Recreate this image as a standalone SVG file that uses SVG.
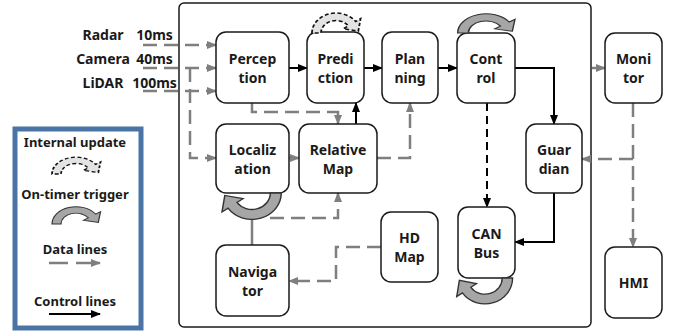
<svg xmlns="http://www.w3.org/2000/svg" width="678" height="333" viewBox="0 0 678 333">
  <style>
    .box { fill: #ffffff; stroke: #1a1a1a; stroke-width: 1.5; }
    .lbl { font-family: "Noto Sans", "Open Sans", sans-serif; font-weight: bold; font-size: 14px; fill: #1a1a1a; text-anchor: middle; }
    .leg { font-family: "Noto Sans", "Open Sans", sans-serif; font-weight: bold; font-size: 13px; fill: #1a1a1a; text-anchor: middle; }
    .data { fill: none; stroke: #7f7f7f; stroke-width: 2.5; stroke-dasharray: 14 7; }
    .datas { fill: none; stroke: #7f7f7f; stroke-width: 2.5; }
    .ctl { fill: none; stroke: #000000; stroke-width: 2; }
    .ctld { fill: none; stroke: #000000; stroke-width: 2; stroke-dasharray: 8 5; }
    .timer { fill: #a6a6a6; stroke: #333333; stroke-width: 1.2; }
    .internal { fill: #e3e3e3; stroke: #111111; stroke-width: 1.8; stroke-dasharray: 4 2.5; }
  </style>
  <defs>
    <marker id="ag" markerWidth="10" markerHeight="8" refX="9" refY="4" orient="auto" markerUnits="userSpaceOnUse">
      <path d="M0,0 L10,4 L0,8 z" fill="#7f7f7f"/>
    </marker>
    <marker id="ab" markerWidth="10" markerHeight="8" refX="9" refY="4" orient="auto" markerUnits="userSpaceOnUse">
      <path d="M0,0 L10,4 L0,8 z" fill="#000000"/>
    </marker>
    <!-- curved band with arrowhead, base on y=0, arching over the top -->
    <path id="loop" d="M-24,0 A24,24 0 0 1 19.66,-13.77 L24.57,-17.2 L22.3,-2.2 L7.37,-5.16 L12.29,-8.6 A15,15 0 0 0 -15,0 Z"/>
  </defs>

  <!-- system frame -->
  <rect x="179" y="3" width="412" height="324" rx="5" fill="#ffffff" stroke="#1a1a1a" stroke-width="1.5"/>

  <!-- sensor inputs -->
  <g id="sensors">
    <text class="lbl" x="103" y="40">Radar</text>
    <text class="lbl" x="154.5" y="40">10ms</text>
    <text class="lbl" x="103" y="64">Camera</text>
    <text class="lbl" x="154.5" y="64">40ms</text>
    <text class="lbl" x="103" y="88">LiDAR</text>
    <text class="lbl" x="154.5" y="88">100ms</text>
  </g>

  <!-- connectors -->
  <g id="connectors">
    <path class="data" d="M143,45 H216" marker-end="url(#ag)"/>
    <path class="data" d="M143,68 H216" marker-end="url(#ag)"/>
    <path class="data" d="M143,91 H216" marker-end="url(#ag)"/>
    <path class="data" d="M190,68 V158 H216" marker-end="url(#ag)"/>
    <path class="data" d="M252,103 V112 H338 V124" marker-end="url(#ag)"/>
    <path class="data" d="M289,158 H299" marker-end="url(#ag)"/>
    <path class="data" d="M377,158 H410 V103" marker-end="url(#ag)"/>
    <path class="datas" d="M252,245 V220"/>
    <path class="data" d="M270,218 H338 V193" marker-end="url(#ag)"/>
    <path class="data" d="M381,247 H336 V281 H289" marker-end="url(#ag)"/>
    <path class="datas" d="M592,68 H605" marker-end="url(#ag)"/>
    <path class="data" d="M633,103 V247" marker-end="url(#ag)"/>
    <path class="data" d="M633,159 H582" marker-end="url(#ag)"/>

    <path class="ctl" d="M289,68 H307" marker-end="url(#ab)"/>
    <path class="ctl" d="M364,68 H382" marker-end="url(#ab)"/>
    <path class="ctl" d="M438,68 H457" marker-end="url(#ab)"/>
    <path class="ctl" d="M356,124 V103" marker-end="url(#ab)"/>
    <path class="ctl" d="M515,68 H554 V124" marker-end="url(#ab)"/>
    <path class="ctld" d="M487,103 V207" marker-end="url(#ab)"/>
    <path class="ctl" d="M554,193 V242 H515" marker-end="url(#ab)"/>
  </g>

  <!-- modules -->
  <g id="perception">
    <rect class="box" x="216" y="32" width="73" height="71" rx="10"/>
    <text class="lbl" x="252.5" y="64">Percep</text>
    <text class="lbl" x="252.5" y="83">tion</text>
  </g>
  <g id="prediction">
    <rect class="box" x="307" y="32" width="57" height="71" rx="10"/>
    <text class="lbl" x="335.5" y="64">Predi</text>
    <text class="lbl" x="335.5" y="83">ction</text>
  </g>
  <g id="planning">
    <rect class="box" x="382" y="32" width="56" height="71" rx="10"/>
    <text class="lbl" x="410" y="64">Plan</text>
    <text class="lbl" x="410" y="83">ning</text>
  </g>
  <g id="control">
    <rect class="box" x="457" y="33" width="58" height="70" rx="10"/>
    <text class="lbl" x="486" y="64">Cont</text>
    <text class="lbl" x="486" y="83">rol</text>
  </g>
  <g id="monitor">
    <rect class="box" x="605" y="33" width="57" height="70" rx="10"/>
    <text class="lbl" x="633.5" y="64">Moni</text>
    <text class="lbl" x="633.5" y="83">tor</text>
  </g>
  <g id="localization">
    <rect class="box" x="216" y="124" width="73" height="69" rx="10"/>
    <text class="lbl" x="252.5" y="155">Localiz</text>
    <text class="lbl" x="252.5" y="174">ation</text>
  </g>
  <g id="relative-map">
    <rect class="box" x="299" y="124" width="78" height="69" rx="10"/>
    <text class="lbl" x="338" y="155">Relative</text>
    <text class="lbl" x="338" y="174">Map</text>
  </g>
  <g id="guardian">
    <rect class="box" x="526" y="124" width="56" height="69" rx="10"/>
    <text class="lbl" x="554" y="155">Guar</text>
    <text class="lbl" x="554" y="174">dian</text>
  </g>
  <g id="can-bus">
    <rect class="box" x="458" y="207" width="57" height="71" rx="10"/>
    <text class="lbl" x="486.5" y="239">CAN</text>
    <text class="lbl" x="486.5" y="258">Bus</text>
  </g>
  <g id="hd-map">
    <rect class="box" x="381" y="212" width="57" height="70" rx="10"/>
    <text class="lbl" x="409.5" y="243">HD</text>
    <text class="lbl" x="409.5" y="262">Map</text>
  </g>
  <g id="navigator">
    <rect class="box" x="216" y="245" width="73" height="71" rx="10"/>
    <text class="lbl" x="252.5" y="277">Naviga</text>
    <text class="lbl" x="252.5" y="296">tor</text>
  </g>
  <g id="hmi">
    <rect class="box" x="605" y="247" width="57" height="71" rx="10"/>
    <text class="lbl" x="633.5" y="288">HMI</text>
  </g>

  <!-- update loops -->
  <g id="loops">
    <use href="#loop" class="internal" transform="translate(336,33) scale(1,0.83)"/>
    <use href="#loop" class="timer" transform="translate(486,33) scale(1.18,0.8)"/>
    <use href="#loop" class="timer" transform="translate(252,193) rotate(180) scale(1.22,1.1)"/>
    <use href="#loop" class="timer" transform="translate(485,278) rotate(180) scale(1.15,1.08)"/>
  </g>

  <!-- legend -->
  <g id="legend">
    <rect x="15" y="129" width="126" height="199" fill="#ffffff" stroke="#4a74a6" stroke-width="5"/>
    <text class="leg" x="75" y="147">Internal update</text>
    <use href="#loop" class="internal" transform="translate(76,174) scale(1,0.7)"/>
    <text class="leg" x="75" y="199">On-timer trigger</text>
    <use href="#loop" class="timer" transform="translate(76,224) scale(1,0.72)"/>
    <text class="leg" x="75" y="254">Data lines</text>
    <path class="datas" d="M49,263 H68"/>
    <path class="datas" d="M76,263 H100" marker-end="url(#ag)"/>
    <text class="leg" x="75" y="306">Control lines</text>
    <path class="ctl" d="M49,314 H100" marker-end="url(#ab)"/>
  </g>
</svg>
